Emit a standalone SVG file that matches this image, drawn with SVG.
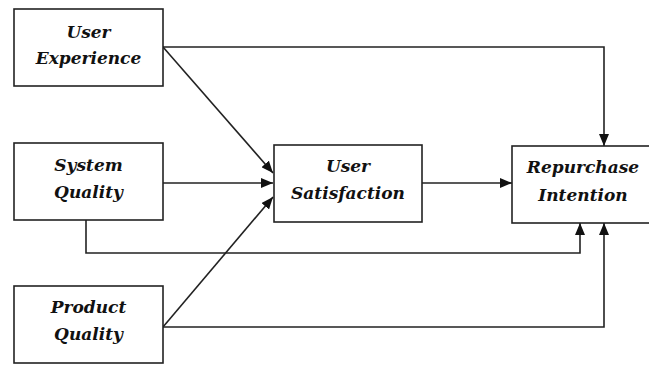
<svg xmlns="http://www.w3.org/2000/svg" width="649" height="365" viewBox="0 0 649 365">
<style>
.box{fill:#fff;stroke:#222;stroke-width:1.6}
.lbl{font-family:'DejaVu Serif',serif;font-weight:bold;font-style:italic;font-size:17px;fill:#111;text-anchor:middle}
.conn{fill:none;stroke:#222;stroke-width:1.6}
</style>
<defs>
<marker id="ah" markerUnits="userSpaceOnUse" markerWidth="12" markerHeight="10" refX="12" refY="5" orient="auto">
<path d="M0,0 L12,5 L0,10 Z" fill="#111"/>
</marker>
</defs>
<rect width="649" height="365" fill="#fff"/>
<g id="connectors">
<path class="conn" d="M163,47 H604 V146" marker-end="url(#ah)"/>
<path class="conn" d="M163,47 L273,173" marker-end="url(#ah)"/>
<path class="conn" d="M163,183 H273" marker-end="url(#ah)"/>
<path class="conn" d="M86,220 V253 H580 V223" marker-end="url(#ah)"/>
<path class="conn" d="M163,327 L273,197" marker-end="url(#ah)"/>
<path class="conn" d="M163,327 H604 V223" marker-end="url(#ah)"/>
<path class="conn" d="M422,183 H512" marker-end="url(#ah)"/>
</g>
<g id="user-experience">
<rect class="box" x="14" y="9" width="149" height="77"/>
<text class="lbl" x="88.5" y="38">User</text>
<text class="lbl" x="88.5" y="64">Experience</text>
</g>
<g id="system-quality">
<rect class="box" x="14" y="143" width="149" height="77"/>
<text class="lbl" x="88.5" y="171">System</text>
<text class="lbl" x="88.5" y="198">Quality</text>
</g>
<g id="product-quality">
<rect class="box" x="14" y="286" width="149" height="77"/>
<text class="lbl" x="88.5" y="313">Product</text>
<text class="lbl" x="88.5" y="340">Quality</text>
</g>
<g id="user-satisfaction">
<rect class="box" x="274" y="145" width="148" height="77"/>
<text class="lbl" x="348" y="172">User</text>
<text class="lbl" x="348" y="199">Satisfaction</text>
</g>
<g id="repurchase-intention">
<rect class="box" x="512" y="146" width="145" height="77"/>
<text class="lbl" x="583" y="173">Repurchase</text>
<text class="lbl" x="583" y="201">Intention</text>
</g>
</svg>
